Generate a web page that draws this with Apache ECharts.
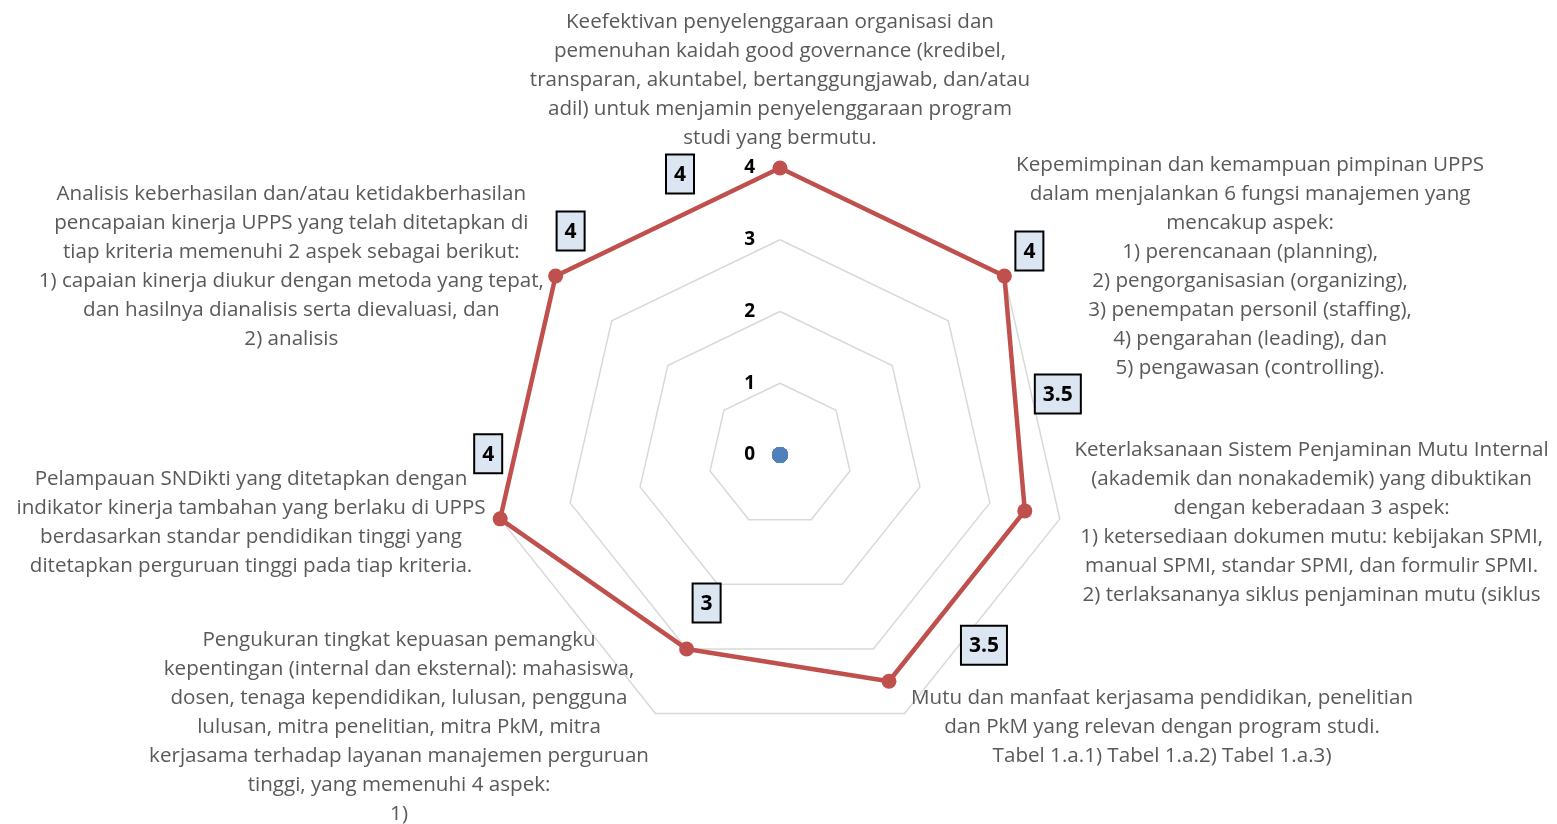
<!DOCTYPE html>
<html>
<head>
<meta charset="utf-8">
<script src="https://cdn.jsdelivr.net/npm/echarts@6/dist/echarts.min.js"></script>
<style>
  html, body { margin: 0; background: #fff; }
  #chart { width: 1557px; height: 824px; }
</style>
</head>
<body>
<div id="chart"></div>
<script>
// kriteria, urut searah jarum jam mulai dari atas
var kriteria = [
  'Keefektivan penyelenggaraan organisasi dan\npemenuhan kaidah good governance (kredibel,\ntransparan, akuntabel, bertanggungjawab, dan/atau\nadil) untuk menjamin penyelenggaraan program\nstudi yang bermutu.',
  'Kepemimpinan dan kemampuan pimpinan UPPS\ndalam menjalankan 6 fungsi manajemen yang\nmencakup aspek:\n1) perencanaan (planning),\n2) pengorganisasian (organizing),\n3) penempatan personil (staffing),\n4) pengarahan (leading), dan\n5) pengawasan (controlling).',
  'Keterlaksanaan Sistem Penjaminan Mutu Internal\n(akademik dan nonakademik) yang dibuktikan\ndengan keberadaan 3 aspek:\n1) ketersediaan dokumen mutu: kebijakan SPMI,\nmanual SPMI, standar SPMI, dan formulir SPMI.\n2) terlaksananya siklus penjaminan mutu (siklus',
  'Mutu dan manfaat kerjasama pendidikan, penelitian\ndan PkM yang relevan dengan program studi.\nTabel 1.a.1) Tabel 1.a.2) Tabel 1.a.3)',
  'Pengukuran tingkat kepuasan pemangku\nkepentingan (internal dan eksternal): mahasiswa,\ndosen, tenaga kependidikan, lulusan, pengguna\nlulusan, mitra penelitian, mitra PkM, mitra\nkerjasama terhadap layanan manajemen perguruan\ntinggi, yang memenuhi 4 aspek:\n1)',
  'Pelampauan SNDikti yang ditetapkan dengan\nindikator kinerja tambahan yang berlaku di UPPS\nberdasarkan standar pendidikan tinggi yang\nditetapkan perguruan tinggi pada tiap kriteria.',
  'Analisis keberhasilan dan/atau ketidakberhasilan\npencapaian kinerja UPPS yang telah ditetapkan di\ntiap kriteria memenuhi 2 aspek sebagai berikut:\n1) capaian kinerja diukur dengan metoda yang tepat,\ndan hasilnya dianalisis serta dievaluasi, dan\n2) analisis'
];
var nilai = [4, 4, 3.5, 3.5, 3, 4, 4];
var nol = [0, 0, 0, 0, 0, 0, 0];
var skalaMin = 0;
var skalaMaks = 4;

// echarts menyusun indikator berlawanan arah jarum jam
var urutan = [0, 6, 5, 4, 3, 2, 1];

// geseran kotak label dari titiknya (px), urut seperti kriteria
var geserLabel = [[-100, 6], [25, -25], [33, -117], [95, -36], [20, -46], [-12, -65], [15, -45]];

var fontTeks = 'Open Sans';

var indikator = urutan.map(function (i, k) {
  var ind = { name: kriteria[i], min: skalaMin, max: skalaMaks };
  if (k > 0) ind.axisLabel = { show: false };
  return ind;
});

var richLabel = {};
for (var r = 0; r < 7; r++) {
  richLabel['v' + r] = { fontSize: 21, fontWeight: 'bold', color: '#000', fontFamily: fontTeks };
}

var option = {
  backgroundColor: '#fff',
  animation: false,
  radar: {
    center: [780, 455],
    radius: 287,
    startAngle: 90,
    shape: 'polygon',
    splitNumber: 4,
    indicator: indikator,
    nameGap: 15,
    axisName: {
      formatter: function (name) {
        return name.split('\n').map(function (l) { return '{c|' + l + '}'; }).join('\n');
      },
      rich: {
        c: { align: 'center', fontSize: 20.6, lineHeight: 29, color: '#595959', fontFamily: fontTeks }
      }
    },
    axisLine: { show: false },
    axisTick: { show: false },
    axisLabel: {
      show: true,
      color: '#000',
      fontSize: 19,
      fontWeight: 'bold',
      fontFamily: fontTeks,
      margin: 25
    },
    splitLine: { lineStyle: { color: '#D9D9D9', width: 1.5 } },
    splitArea: { show: false }
  },
  series: [
    {
      type: 'radar',
      symbol: 'circle',
      symbolSize: 16,
      z: 3,
      data: [{
        value: urutan.map(function (i) { return nol[i]; }),
        itemStyle: { color: '#4F81BD' },
        lineStyle: { width: 0, opacity: 0 }
      }]
    },
    {
      type: 'radar',
      symbol: 'circle',
      symbolSize: 15,
      z: 4,
      data: [{
        value: urutan.map(function (i) { return nilai[i]; }),
        itemStyle: { color: '#C0504D' },
        lineStyle: { color: '#C0504D', width: 4.5 },
        label: {
          show: true,
          position: 'inside',
          backgroundColor: '#DCE6F2',
          borderColor: '#000',
          borderWidth: 2,
          padding: [9, 7, 7, 7],
          formatter: function (p) {
            return '{v' + urutan[p.dimensionIndex] + '|' + p.value + '}';
          },
          rich: richLabel
        }
      }],
      labelLayout: function (p) {
        var m = /v(\d)\|/.exec(p.text || '');
        if (!m) return {};
        var g = geserLabel[+m[1]];
        return { dx: g[0], dy: g[1] };
      }
    }
  ]
};

var chart = echarts.init(document.getElementById('chart'));
chart.setOption(option);
</script>
</body>
</html>
